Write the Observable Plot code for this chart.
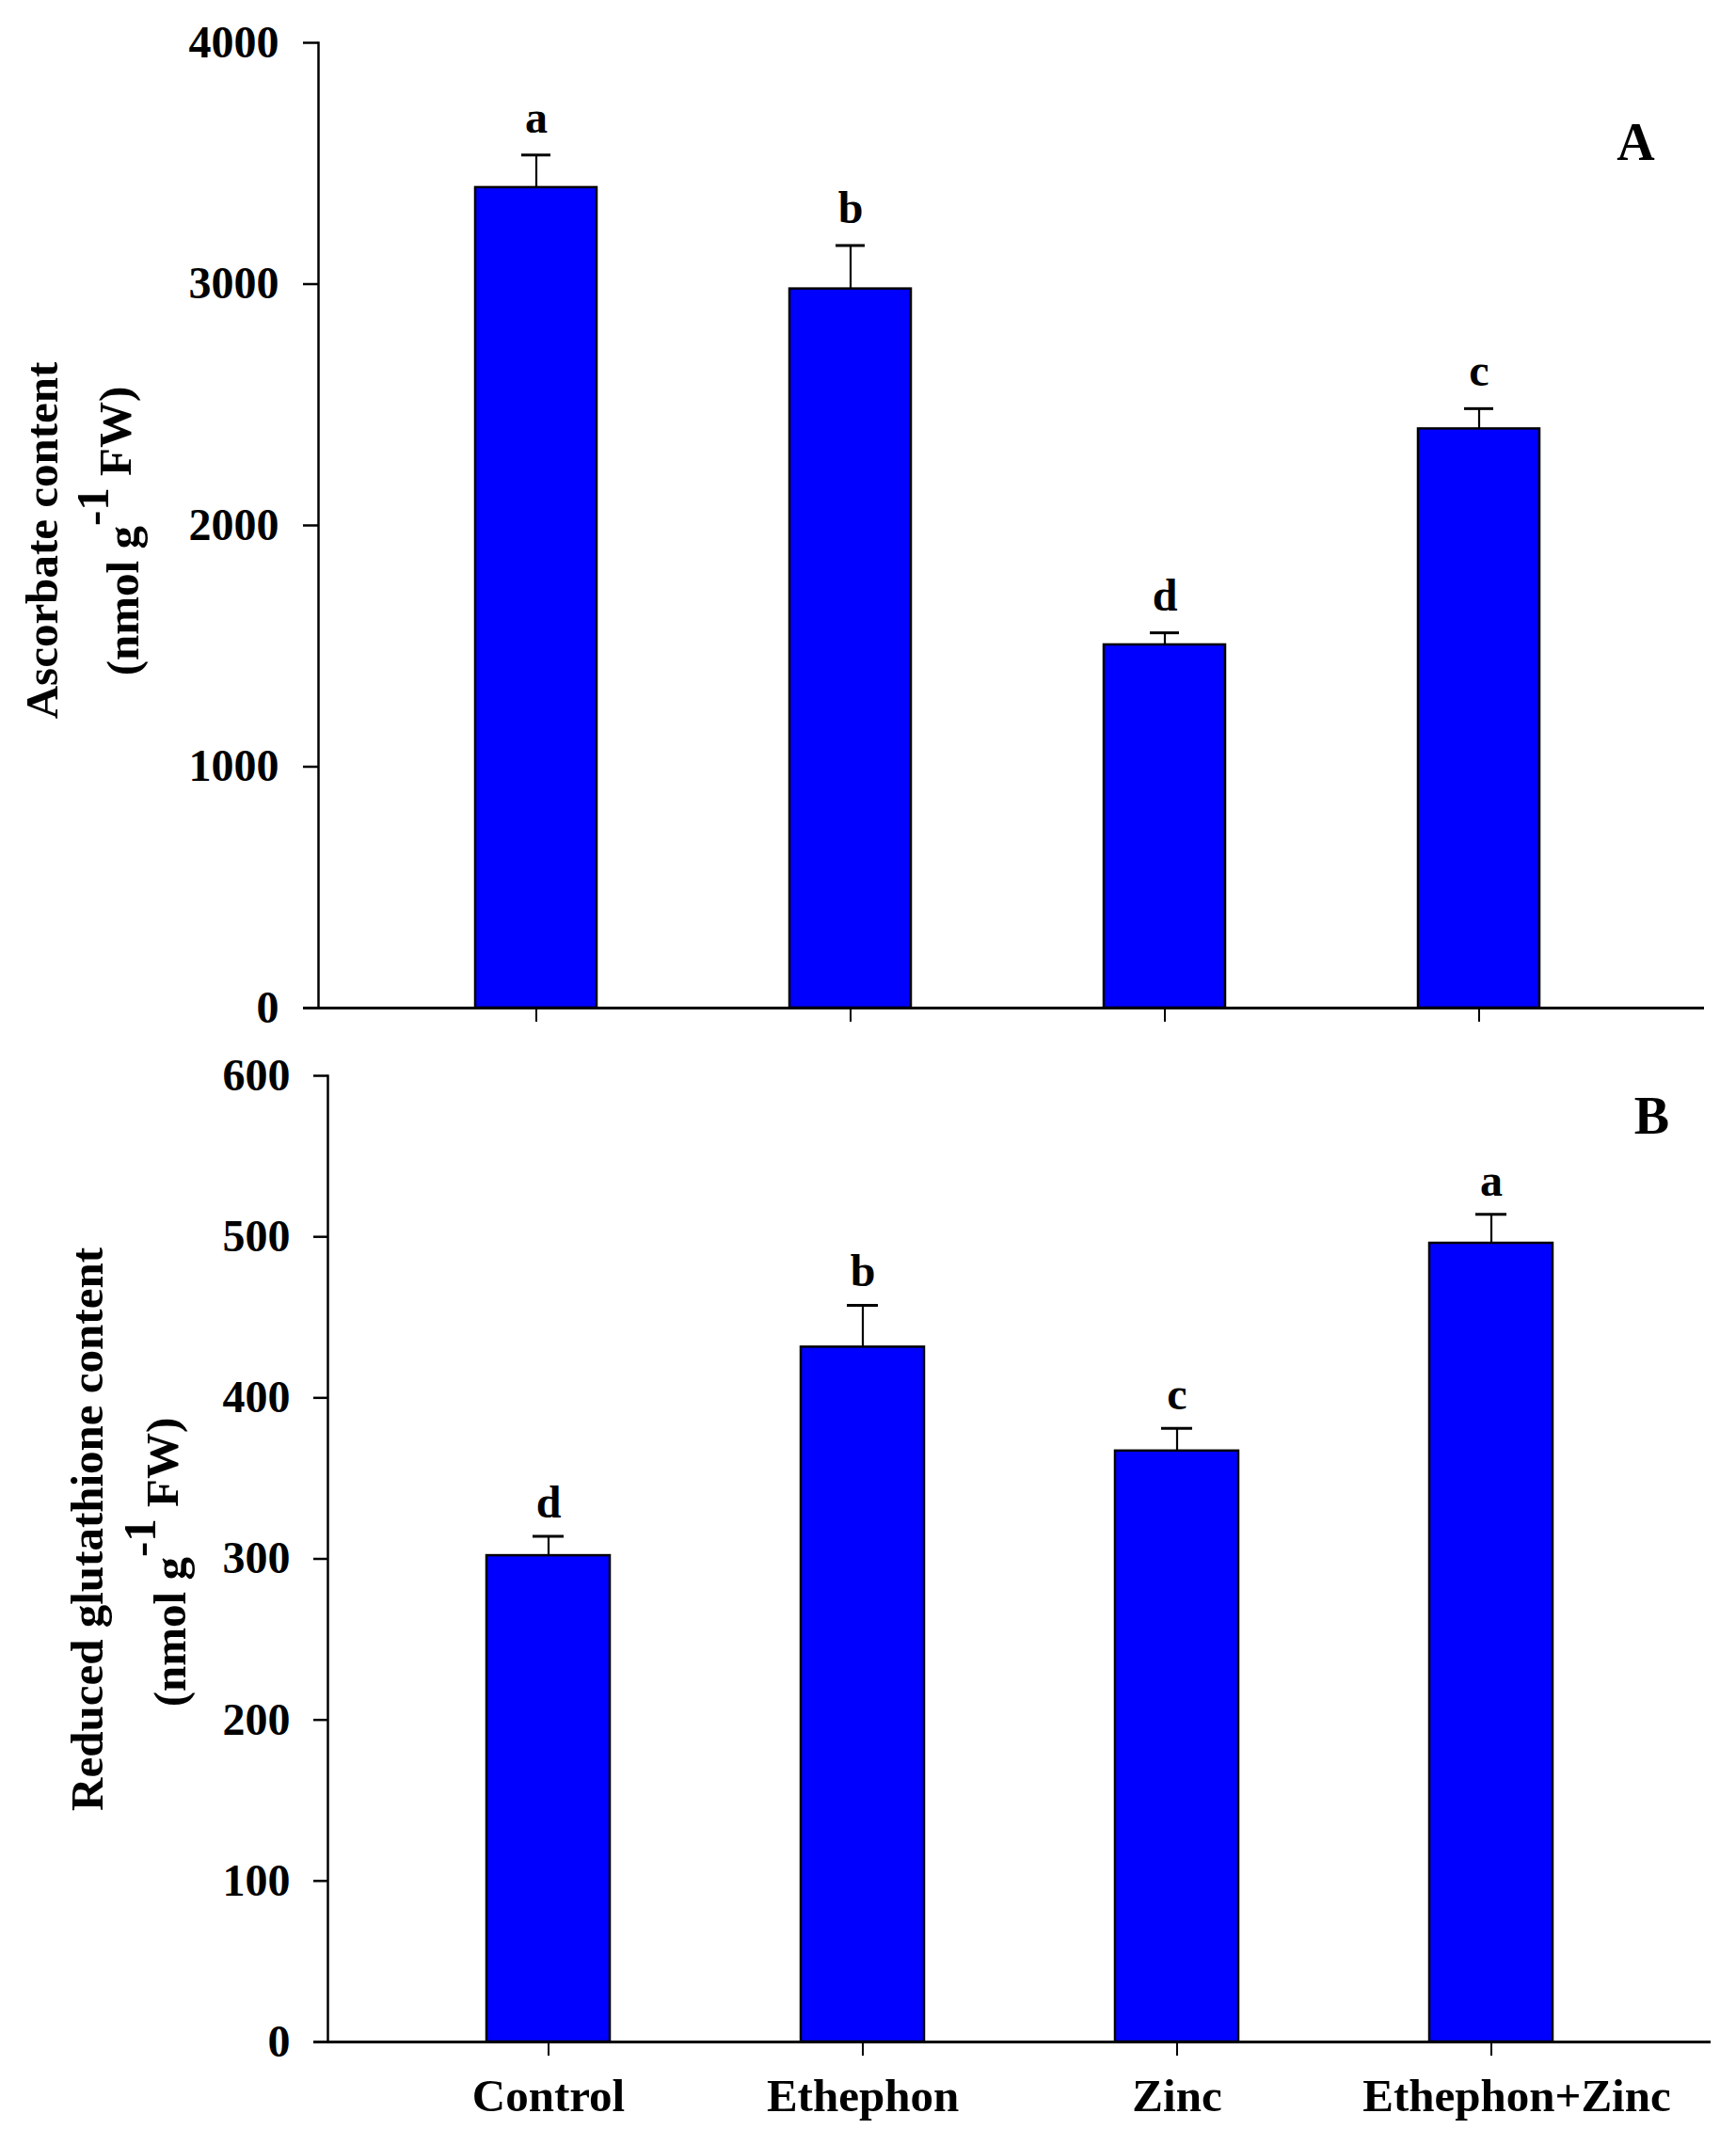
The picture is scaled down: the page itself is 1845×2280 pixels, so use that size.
<!DOCTYPE html>
<html>
<head>
<meta charset="utf-8">
<script src="https://cdn.jsdelivr.net/npm/d3@7"></script>
<script src="https://cdn.jsdelivr.net/npm/@observablehq/plot@0.6"></script>
<style>
  html, body { margin: 0; padding: 0; background: #ffffff; }
  #chart svg { display: block; }
</style>
</head>
<body>
<div id="chart"></div>
<script>
// ---- data ----
const treatments = ["Control", "Ethephon", "Zinc", "Ethephon+Zinc"];
const ascorbate = [3400, 2980, 1505, 2400];
const ascorbateErr = [135, 180, 50, 84];
const ascorbateLetters = ["a", "b", "d", "c"];
const glutathione = [302, 431.5, 367, 496];
const glutathioneErr = [12, 26, 14, 18];
const glutathioneLetters = ["d", "b", "c", "a"];
const yTicksA = [0, 1000, 2000, 3000, 4000];
const yTicksB = [0, 100, 200, 300, 400, 500, 600];
const titleA = "Ascorbate content";
const titleB = "Reduced glutathione content";
const unitLabel = "(nmol g-1 FW)";
const panelA = "A";
const panelB = "B";

const rowsA = treatments.map((t, i) => ({treatment: t, value: ascorbate[i], err: ascorbateErr[i], letter: ascorbateLetters[i]}));
const rowsB = treatments.map((t, i) => ({treatment: t, value: glutathione[i], err: glutathioneErr[i], letter: glutathioneLetters[i]}));

const FONT = "'Liberation Serif', 'Times New Roman', serif";
const style = `font-family: ${FONT}; font-size: 48px; font-weight: bold; color: black; background: white; overflow: visible;`;
const BLUE = "#0000ff";
const fmt = d3.format("d");

function superscript(svg) {
  const ns = "http://www.w3.org/2000/svg";
  svg.querySelectorAll("text").forEach(t => {
    if (t.textContent === unitLabel) {
      t.textContent = "";
      const a = document.createElementNS(ns, "tspan");
      a.textContent = "(nmol g";
      const b = document.createElementNS(ns, "tspan");
      b.setAttribute("dy", "-32");
      b.textContent = "-1";
      const c = document.createElementNS(ns, "tspan");
      c.setAttribute("dy", "24");
      c.textContent = "\u00a0FW)";
      t.append(a, b, c);
    }
  });
  return svg;
}

// ---- panel A ----
const plotA = Plot.plot({
  width: 1845,
  height: 1100,
  marginTop: 45,
  marginBottom: 29,
  marginLeft: 338,
  marginRight: 1845 - 1811,
  style,
  x: {domain: treatments, paddingInner: 0.613, paddingOuter: 0.508, align: 0.49, axis: null},
  y: {domain: [0, 4000], axis: null},
  marks: [
    Plot.barY(rowsA, {x: "treatment", y: "value", fill: BLUE, stroke: "black", strokeWidth: 2.5}),
    Plot.ruleX(rowsA, {x: "treatment", y1: "value", y2: d => d.value + d.err, stroke: "black", strokeWidth: 2.2}),
    Plot.tickY(rowsA, {x: "treatment", y: d => d.value + d.err, insetLeft: 49, insetRight: 49, stroke: "black", strokeWidth: 3}),
    Plot.text(rowsA, {x: "treatment", y: d => d.value + d.err, text: "letter", lineAnchor: "bottom", dy: -24, fontSize: 48, fontWeight: "bold"}),
    Plot.frame({anchor: "left", stroke: "black", strokeWidth: 2.5}),
    Plot.ruleY([0], {insetLeft: -16, stroke: "black", strokeWidth: 3}),
    Plot.axisY(yTicksA, {tickSize: 16, tickPadding: 26, tickFormat: fmt, label: null, strokeWidth: 2.5, fontSize: 48}),
    Plot.axisX({tickSize: 15, tickFormat: () => "", label: null, strokeWidth: 2}),
    Plot.text([titleA], {frameAnchor: "left", rotate: -90, textAnchor: "middle", lineAnchor: "bottom", dx: -278, dy: 16, fontSize: 49, fontWeight: "bold"}),
    Plot.text([unitLabel], {frameAnchor: "left", rotate: -90, textAnchor: "middle", lineAnchor: "bottom", dx: -192, dy: 6, fontSize: 49, fontWeight: "bold"}),
    Plot.text([panelA], {frameAnchor: "top-right", textAnchor: "middle", lineAnchor: "middle", dx: -73, dy: 107, fontSize: 56, fontWeight: "bold"})
  ]
});

// ---- panel B ----
const plotB = Plot.plot({
  width: 1845,
  height: 1180,
  marginTop: 43,
  marginBottom: 110,
  marginLeft: 348,
  marginRight: 1845 - 1818,
  style,
  x: {domain: treatments, paddingInner: 0.609, paddingOuter: 0.502, align: 0.5, axis: null},
  y: {domain: [0, 600], axis: null},
  marks: [
    Plot.barY(rowsB, {x: "treatment", y: "value", fill: BLUE, stroke: "black", strokeWidth: 2.5}),
    Plot.ruleX(rowsB, {x: "treatment", y1: "value", y2: d => d.value + d.err, stroke: "black", strokeWidth: 2.2}),
    Plot.tickY(rowsB, {x: "treatment", y: d => d.value + d.err, insetLeft: 49, insetRight: 49, stroke: "black", strokeWidth: 3}),
    Plot.text(rowsB, {x: "treatment", y: d => d.value + d.err, text: "letter", lineAnchor: "bottom", dy: -20, fontSize: 48, fontWeight: "bold"}),
    Plot.frame({anchor: "left", stroke: "black", strokeWidth: 2.5}),
    Plot.ruleY([0], {insetLeft: -15, stroke: "black", strokeWidth: 3}),
    Plot.axisY(yTicksB, {tickSize: 15, tickPadding: 25, tickFormat: fmt, label: null, strokeWidth: 2.5, fontSize: 48}),
    Plot.axisX({tickSize: 15, tickFormat: () => "", label: null, strokeWidth: 2}),
    Plot.axisX(treatments.filter(d => d !== "Ethephon+Zinc"), {tickSize: 0, tickPadding: 39, label: null, fontSize: 49, fontWeight: "bold"}),
    Plot.axisX(treatments.filter(d => d === "Ethephon+Zinc"), {tickSize: 0, tickPadding: 39, label: null, fontSize: 49, fontWeight: "bold", dx: 27}),
    Plot.text([titleB], {frameAnchor: "left", rotate: -90, textAnchor: "middle", lineAnchor: "bottom", dx: -240, dy: -31.5, fontSize: 49, fontWeight: "bold"}),
    Plot.text([unitLabel], {frameAnchor: "left", rotate: -90, textAnchor: "middle", lineAnchor: "bottom", dx: -152, dy: 3.5, fontSize: 49, fontWeight: "bold"}),
    Plot.text([panelB], {frameAnchor: "top-right", textAnchor: "middle", lineAnchor: "middle", dx: -63, dy: 44, fontSize: 56, fontWeight: "bold"})
  ]
});

const chart = document.getElementById("chart");
chart.append(superscript(plotA), superscript(plotB));
</script>
</body>
</html>
